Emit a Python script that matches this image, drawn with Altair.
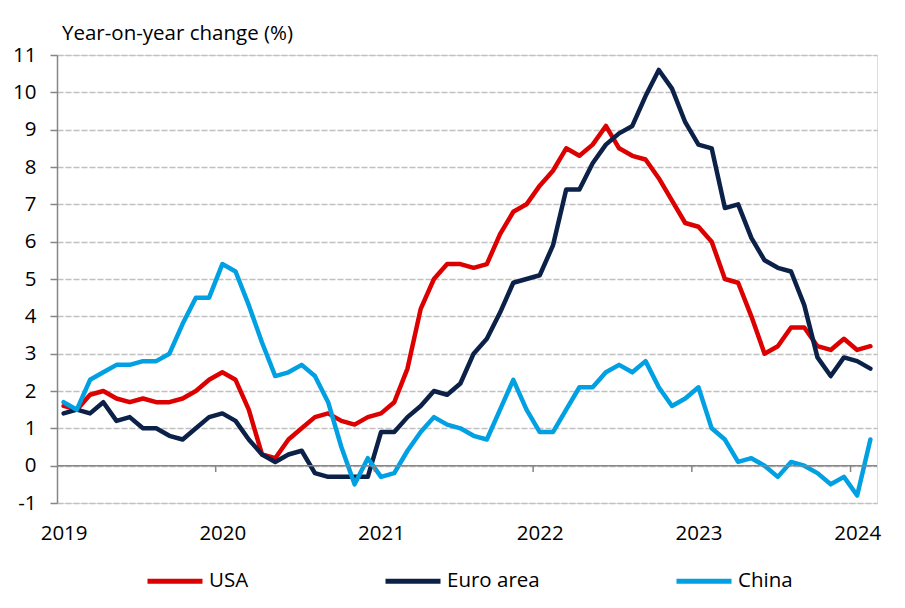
import altair as alt
import pandas as pd

# Monthly year-on-year inflation, Jan 2019 .. Feb 2024
usa = [1.6, 1.5, 1.9, 2.0, 1.8, 1.7, 1.8, 1.7, 1.7, 1.8, 2.0, 2.3,
       2.5, 2.3, 1.5, 0.3, 0.2, 0.7, 1.0, 1.3, 1.4, 1.2, 1.1, 1.3,
       1.4, 1.7, 2.6, 4.2, 5.0, 5.4, 5.4, 5.3, 5.4, 6.2, 6.8, 7.0,
       7.5, 7.9, 8.5, 8.3, 8.6, 9.1, 8.5, 8.3, 8.2, 7.7, 7.1, 6.5,
       6.4, 6.0, 5.0, 4.9, 4.0, 3.0, 3.2, 3.7, 3.7, 3.2, 3.1, 3.4,
       3.1, 3.2]
euro = [1.4, 1.5, 1.4, 1.7, 1.2, 1.3, 1.0, 1.0, 0.8, 0.7, 1.0, 1.3,
        1.4, 1.2, 0.7, 0.3, 0.1, 0.3, 0.4, -0.2, -0.3, -0.3, -0.3, -0.3,
        0.9, 0.9, 1.3, 1.6, 2.0, 1.9, 2.2, 3.0, 3.4, 4.1, 4.9, 5.0,
        5.1, 5.9, 7.4, 7.4, 8.1, 8.6, 8.9, 9.1, 9.9, 10.6, 10.1, 9.2,
        8.6, 8.5, 6.9, 7.0, 6.1, 5.5, 5.3, 5.2, 4.3, 2.9, 2.4, 2.9,
        2.8, 2.6]
china = [1.7, 1.5, 2.3, 2.5, 2.7, 2.7, 2.8, 2.8, 3.0, 3.8, 4.5, 4.5,
         5.4, 5.2, 4.3, 3.3, 2.4, 2.5, 2.7, 2.4, 1.7, 0.5, -0.5, 0.2,
         -0.3, -0.2, 0.4, 0.9, 1.3, 1.1, 1.0, 0.8, 0.7, 1.5, 2.3, 1.5,
         0.9, 0.9, 1.5, 2.1, 2.1, 2.5, 2.7, 2.5, 2.8, 2.1, 1.6, 1.8,
         2.1, 1.0, 0.7, 0.1, 0.2, 0.0, -0.3, 0.1, 0.0, -0.2, -0.5, -0.3,
         -0.8, 0.7]
series_names = ["USA", "Euro area", "China"]
series_colors = ["#dc0000", "#0c2148", "#00a0e2"]
years = [2019, 2020, 2021, 2022, 2023, 2024]
y_ticks = list(range(-1, 12))

rows = []
for name, vals in zip(series_names, [usa, euro, china]):
    for i, v in enumerate(vals):
        rows.append({"idx": i, "value": v, "series": name})
df = pd.DataFrame(rows)

n = len(usa)
x_scale = alt.Scale(domain=[-0.5, n - 0.5], nice=False, zero=False)
y_scale = alt.Scale(domain=[-1, 11], nice=False, zero=False)

FONT = "Open Sans"
FS = 20.5

x_axis = alt.Axis(values=[(y - years[0]) * 12 for y in years],
                  labelExpr=f"{years[0]} + datum.value / 12",
                  ticks=False, domain=False, grid=False, title=None,
                  labelFontSize=FS, labelFont=FONT, labelColor="#000000",
                  labelPadding=20, labelOverlap=False)
y_axis = alt.Axis(values=y_ticks, grid=True, gridDash=[6, 2], gridColor="#c0c0c0",
                  gridWidth=1.3, domainColor="#868686", domainWidth=1.5,
                  tickColor="#868686", tickWidth=1.5, tickSize=7,
                  labelExpr="'' + datum.value",
                  labelFontSize=FS, labelFont=FONT, labelColor="#000000",
                  labelPadding=14, labelOverlap=False, title=None)

lines = alt.Chart(df).mark_line(strokeWidth=4.5, strokeJoin="round", strokeCap="round").encode(
    x=alt.X("idx:Q", scale=x_scale, axis=x_axis),
    y=alt.Y("value:Q", scale=y_scale, axis=y_axis),
    color=alt.Color("series:N", sort=series_names,
                    scale=alt.Scale(domain=series_names, range=series_colors),
                    legend=alt.Legend(orient="none", legendX=88, legendY=496, direction="horizontal",
                                      title=None, symbolType="stroke", symbolStrokeWidth=5,
                                      symbolSize=3025, labelFontSize=FS, labelFont=FONT,
                                      labelColor="#000000", columnPadding=126, labelOffset=4)),
    order="idx:Q",
)

zero_df = pd.DataFrame({"x0": [-0.5], "x1": [n - 0.5], "y": [0]})
zero_line = alt.Chart(zero_df).mark_rule(color="#868686", strokeWidth=1.5).encode(
    x=alt.X("x0:Q", scale=x_scale, axis=x_axis), x2="x1:Q",
    y=alt.Y("y:Q", scale=y_scale, axis=y_axis)
)

tick_df = pd.DataFrame({"t": [(y - years[0]) * 12 - 0.5 for y in years[1:]]})
year_ticks = alt.Chart(tick_df).mark_rule(color="#868686", strokeWidth=1.5).encode(
    x=alt.X("t:Q", scale=x_scale, axis=x_axis),
    y=alt.YDatum(0, scale=y_scale, axis=y_axis), y2=alt.datum(-0.17)
)

chart = alt.layer(lines, zero_line, year_ticks).properties(
    width=820, height=448,
    title=alt.TitleParams("Year-on-year change (%)", anchor="start", frame="group",
                          fontSize=FS, font=FONT, fontWeight="normal", color="#000000",
                          dx=5, offset=1),
    autosize=alt.AutoSizeParams(type="none"),
    padding={"left": 49, "top": 47, "right": 20, "bottom": 96},
).configure_view(stroke=None).configure(background="#ffffff")

chart.save("out.html", embed_options={"renderer": "svg", "actions": False})
